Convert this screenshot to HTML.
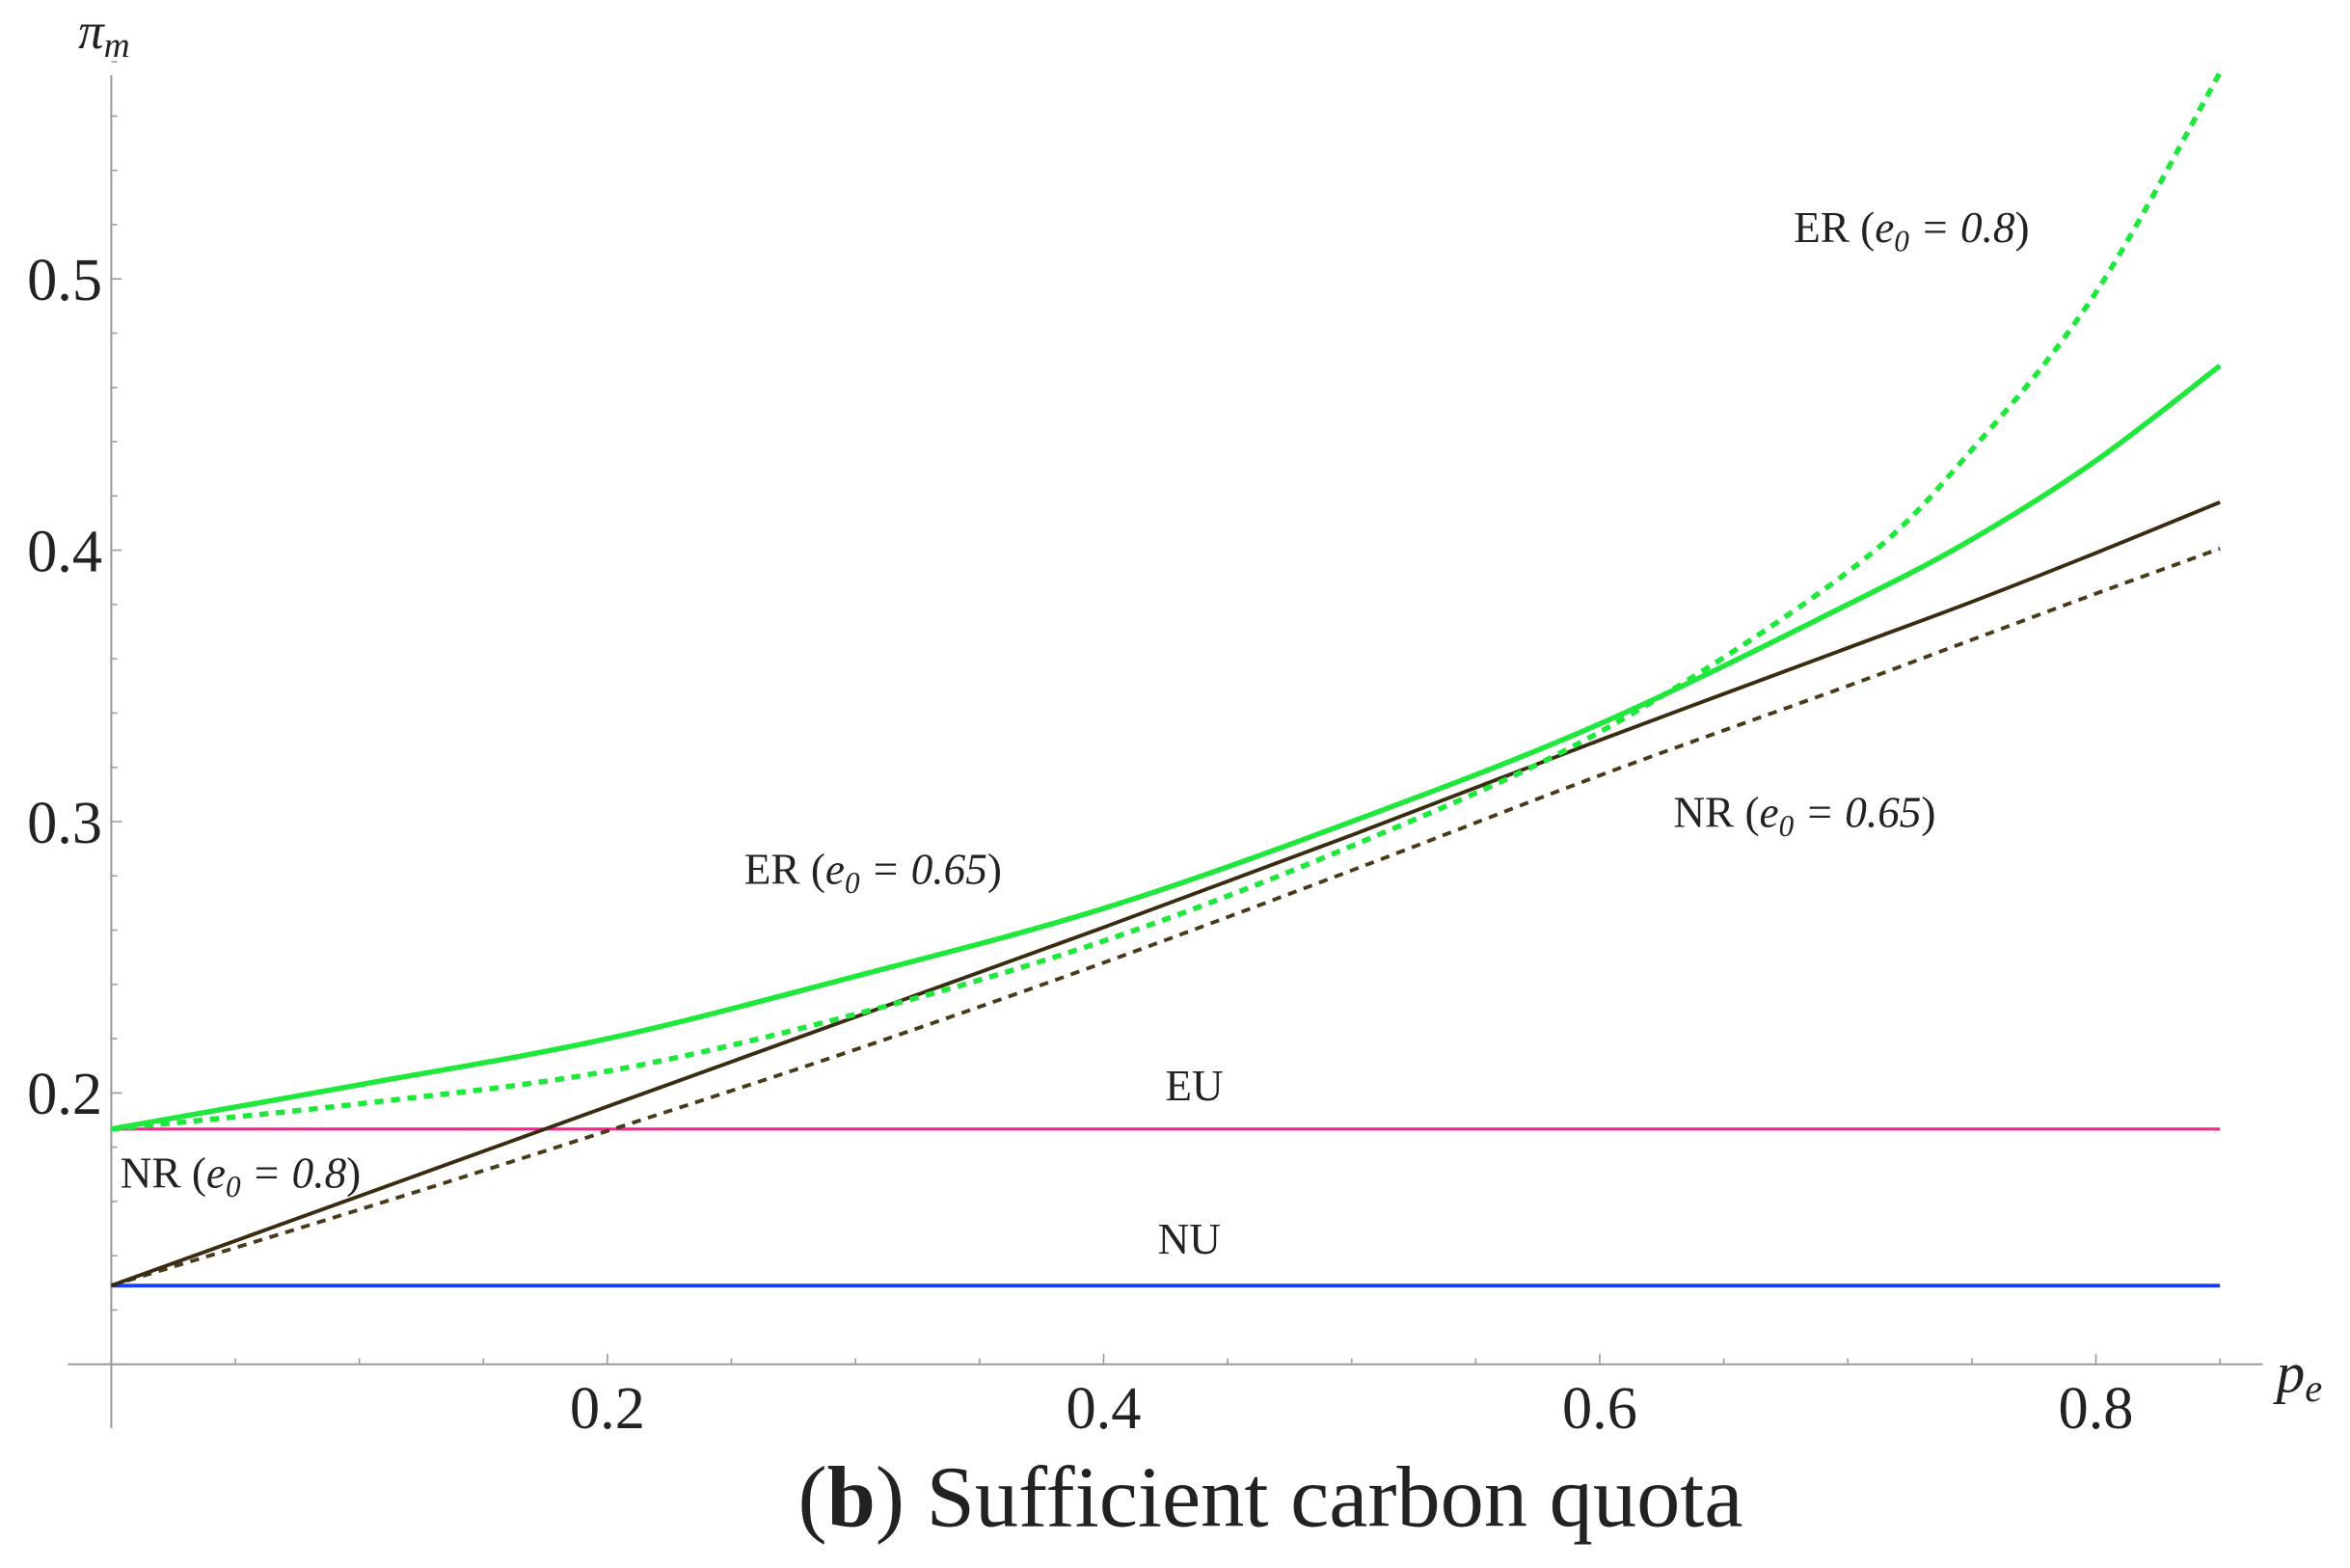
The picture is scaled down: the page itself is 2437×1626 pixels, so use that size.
<!DOCTYPE html>
<html><head><meta charset="utf-8"><style>
html,body{margin:0;padding:0;background:#fff;}
svg{display:block;}
text{font-family:"Liberation Serif",serif;fill:#222;}
</style></head><body>
<svg width="2437" height="1626" viewBox="0 0 1563 1043" preserveAspectRatio="none" xmlns="http://www.w3.org/2000/svg">
<g id="axes"></g>
<g id="series"></g>
<g font-size="29">
<text x="1193" y="161">ER (<tspan font-style="italic">e</tspan><tspan font-style="italic" font-size="20" dy="6">0</tspan><tspan dy="-6" font-style="italic"> = 0.8</tspan>)</text>
<text x="495" y="588">ER (<tspan font-style="italic">e</tspan><tspan font-style="italic" font-size="20" dy="6">0</tspan><tspan dy="-6" font-style="italic"> = 0.65</tspan>)</text>
<text x="1113" y="550">NR (<tspan font-style="italic">e</tspan><tspan font-style="italic" font-size="20" dy="6">0</tspan><tspan dy="-6" font-style="italic"> = 0.65</tspan>)</text>
<text x="80" y="790">NR (<tspan font-style="italic">e</tspan><tspan font-style="italic" font-size="20" dy="6">0</tspan><tspan dy="-6" font-style="italic"> = 0.8</tspan>)</text>
<text x="775" y="732">EU</text>
<text x="770" y="834">NU</text>
</g>
<text x="52" y="32" font-size="34" font-style="italic">π<tspan font-size="24" dy="6">m</tspan></text>
<text x="1514" y="926" font-size="38" font-style="italic">p<tspan font-size="26" dy="6">e</tspan></text>
<text x="845" y="1015" font-size="58" text-anchor="middle">(<tspan font-weight="bold">b</tspan>) Sufficient carbon quota</text>
</svg>
<script>
const xTicks=[0.2,0.4,0.6,0.8];
const xTickLabels=["0.2","0.4","0.6","0.8"];
const yTicks=[0.2,0.3,0.4,0.5];
const yTickLabels=["0.2","0.3","0.4","0.5"];
const xs=[0,0.1,0.2,0.3,0.4,0.5,0.6,0.7,0.75,0.8,0.85];
const erSolid=[0.1867,0.203,0.220,0.243,0.268,0.300,0.336,0.380,0.404,0.433,0.468];
const erDotted=[0.1867,0.196,0.208,0.229,0.256,0.291,0.333,0.392,0.437,0.495,0.576];
const nrSolid=[0.129,0.162,0.195,0.228,0.261,0.295,0.330,0.364,0.381,0.399,0.4177];
const nrDashed=[0.129,0.157,0.186,0.216,0.248,0.282,0.317,0.350,0.367,0.384,0.4006];
const euValue=0.1867, nuValue=0.129;
const X=v=>74+v*1650, Y=v=>727-(v-0.2)*1805;
const NS="http://www.w3.org/2000/svg";
const ax=document.getElementById('axes'), se=document.getElementById('series');
function mk(tag,attrs,parent){const e=document.createElementNS(NS,tag);for(const k in attrs)e.setAttribute(k,attrs[k]);parent.appendChild(e);return e;}
let e=mk('line',{x1:45,y1:Y(0.1),x2:1505,y2:Y(0.1),stroke:'#999','stroke-width':1.3},ax);


e=mk('line',{x1:X(0),y1:50,x2:X(0),y2:950,stroke:'#999','stroke-width':1.3},ax);


for(let i=1;i<=17;i++){const v=i*0.05;const major=i%4==0;
 e=mk('line',{x1:X(v),y1:Y(0.1),x2:X(v),y2:Y(0.1)-(major?7:4),stroke:'#999','stroke-width':1},ax);
 
 }
for(let i=0;i<=24;i++){const v=0.1+i*0.02;if(v>0.58)break;const major=i%5==0;
 e=mk('line',{x1:X(0),y1:Y(v),x2:X(0)+(major?7:4),y2:Y(v),stroke:'#999','stroke-width':1},ax);
 
 }
xTicks.forEach((v,i)=>{const t=mk('text',{x:X(v),y:950,'font-size':40,'text-anchor':'middle'},ax);t.textContent=xTickLabels[i];
 
 });
yTicks.forEach((v,i)=>{const t=mk('text',{x:18,y:Y(v)+14,'font-size':40},ax);t.textContent=yTickLabels[i];
 
 });
function path(arr){let pts=xs.map((x,i)=>[X(x),Y(arr[i])]);let d='M'+pts[0];
 for(let i=0;i<pts.length-1;i++){const p0=pts[i-1]||pts[i],p1=pts[i],p2=pts[i+1],p3=pts[i+2]||p2;
 const c1=[p1[0]+(p2[0]-p0[0])/6,p1[1]+(p2[1]-p0[1])/6],c2=[p2[0]-(p3[0]-p1[0])/6,p2[1]-(p3[1]-p1[1])/6];
 d+=' C'+c1+' '+c2+' '+p2;}return d;}
e=mk('line',{x1:X(0),y1:Y(euValue),x2:X(0.85),y2:Y(euValue),stroke:'#ff1f8f','stroke-width':2},se);


e=mk('line',{x1:X(0),y1:Y(nuValue),x2:X(0.85),y2:Y(nuValue),stroke:'#1a3cff','stroke-width':2.5},se);


e=mk('path',{d:path(nrDashed),fill:'none',stroke:'#4a3a1a','stroke-width':2.5,'stroke-dasharray':'6,5'},se);


e=mk('path',{d:path(nrSolid),fill:'none',stroke:'#3a2c10','stroke-width':2.5},se);


e=mk('path',{d:path(erDotted),fill:'none',stroke:'#1ee83c','stroke-width':3.5,'stroke-dasharray':'6,5'},se);


e=mk('path',{d:path(erSolid),fill:'none',stroke:'#1ee83c','stroke-width':3.5},se);


</script>
</body></html>
